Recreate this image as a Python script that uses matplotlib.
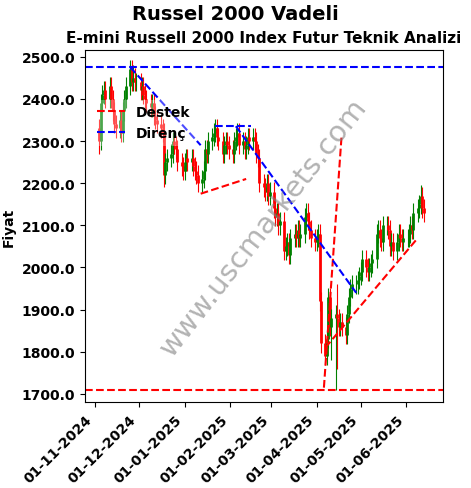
import matplotlib
matplotlib.use("Agg")
import matplotlib.pyplot as plt
import matplotlib.dates as mdates
import numpy as np
import pandas as pd

start_date = "2024-11-04"
closes = [
    2300, 2390, 2410, 2420, 2400,
    2430, 2400, 2370, 2340, 2330,
    2350, 2320, 2370, 2400, 2430,
    2470, 2440, 2450, 2440, 2440,
    2420, 2430, 2410, 2400, 2390,
    2380, 2390, 2360, 2350, 2340,
    2330, 2320, 2220, 2250, 2260,
    2270, 2300, 2290, 2280, 2250,
    2240, 2230, 2250, 2260, 2250,
    2260, 2240, 2230, 2220, 2200,
    2210, 2230, 2280, 2270, 2300,
    2310, 2320, 2330, 2310, 2300,
    2270, 2290, 2300, 2290, 2280,
    2270, 2300, 2310, 2320, 2290,
    2300, 2280, 2290, 2310, 2300,
    2310, 2300, 2270, 2260, 2200,
    2190, 2180, 2200, 2170, 2180,
    2140, 2120, 2130, 2100, 2110,
    2040, 2050, 2060, 2030, 2070,
    2080, 2070, 2090, 2070, 2080,
    2120, 2130, 2110, 2090, 2070,
    2060, 2070, 2080, 1920, 1820,
    1790, 1830, 1930, 1860, 1880,
    1890, 1880, 1860, 1870, 1860,
    1840, 1890, 1930, 1950, 1960,
    1960, 1970, 1980, 1990, 2020,
    2000, 1990, 2000, 2010, 2020,
    2080, 2090, 2070, 2060, 2100,
    2100, 2090, 2050, 2060, 2040,
    2060, 2080, 2070, 2060, 2070,
    2070, 2080, 2100, 2090, 2130,
    2140, 2150, 2170, 2140, 2130,
]
first_open = 2330
wick = 22
# extra wick extremes by bar index
low_spikes = {0: 2270, 32: 2190, 114: 1780, 115: 1710, 116: 1760}
high_spikes = {17: 2480, 116: 1960, 157: 2195}

support_lines = [
    (("2025-01-12", 2175), ("2025-02-12", 2210)),
    (("2025-04-06", 1715), ("2025-04-18", 2310)),
    (("2025-04-07", 1810), ("2025-06-09", 2070)),
]
resistance_lines = [
    (("2024-11-25", 2475), ("2025-01-12", 2290)),
    (("2025-01-22", 2335), ("2025-02-15", 2335)),
    (("2025-02-05", 2335), ("2025-04-28", 1940)),
]
support_level = 1710
resistance_level = 2475

dates = pd.bdate_range(start_date, periods=len(closes))
closes = np.array(closes, dtype=float)
opens = np.concatenate([[first_open], closes[:-1]])
highs = np.maximum(opens, closes) + wick
lows = np.minimum(opens, closes) - wick
for i, v in low_spikes.items():
    lows[i] = v
for i, v in high_spikes.items():
    highs[i] = v

fig, ax = plt.subplots(figsize=(4.71, 4.89), dpi=100)
x = mdates.date2num(dates)
for xi, o, h, l, c in zip(x, opens, highs, lows, closes):
    color = "green" if c >= o else "red"
    ax.vlines(xi, l, h, color=color, linewidth=0.8)
    ax.vlines(xi, min(o, c), max(o, c), color=color, linewidth=2.0)

ax.axhline(support_level, color="red", linestyle="--", linewidth=1.5, label="Destek")
ax.axhline(resistance_level, color="blue", linestyle="--", linewidth=1.5, label="Direnç")
for (d0, y0), (d1, y1) in support_lines:
    ax.plot(pd.to_datetime([d0, d1]), [y0, y1], color="red", linestyle="--", linewidth=1.5)
for (d0, y0), (d1, y1) in resistance_lines:
    ax.plot(pd.to_datetime([d0, d1]), [y0, y1], color="blue", linestyle="--", linewidth=1.5)

ax.text(0.5, 0.5, "www.uscmarkets.com", transform=ax.transAxes, fontsize=21,
        color="gray", alpha=0.6, rotation=52, ha="center", va="center")

ax.set_ylim(1680, 2515)
ax.set_xlim(pd.Timestamp("2024-10-25"), pd.Timestamp("2025-06-26"))
ax.yaxis.set_major_formatter(matplotlib.ticker.FormatStrFormatter("%.1f"))
ax.xaxis.set_major_locator(mdates.MonthLocator())
ax.xaxis.set_major_formatter(mdates.DateFormatter("%d-%m-%Y"))
plt.setp(ax.get_xticklabels(), rotation=45, ha="right", fontweight="bold")
plt.setp(ax.get_yticklabels(), fontweight="bold")
ax.set_ylabel("Fiyat", fontweight="bold")
ax.set_title("E-mini Russell 2000 Index Futur Teknik Analizi", fontsize=11, fontweight="bold")
fig.suptitle("Russel 2000 Vadeli", fontsize=14, fontweight="bold", y=0.99)
ax.legend(loc="upper left", bbox_to_anchor=(0.0, 0.88), prop={"weight": "bold"},
          framealpha=0.3, edgecolor="none")
fig.subplots_adjust(left=0.18, right=0.94, top=0.895, bottom=0.175)
fig.savefig("out.png", dpi=100)
